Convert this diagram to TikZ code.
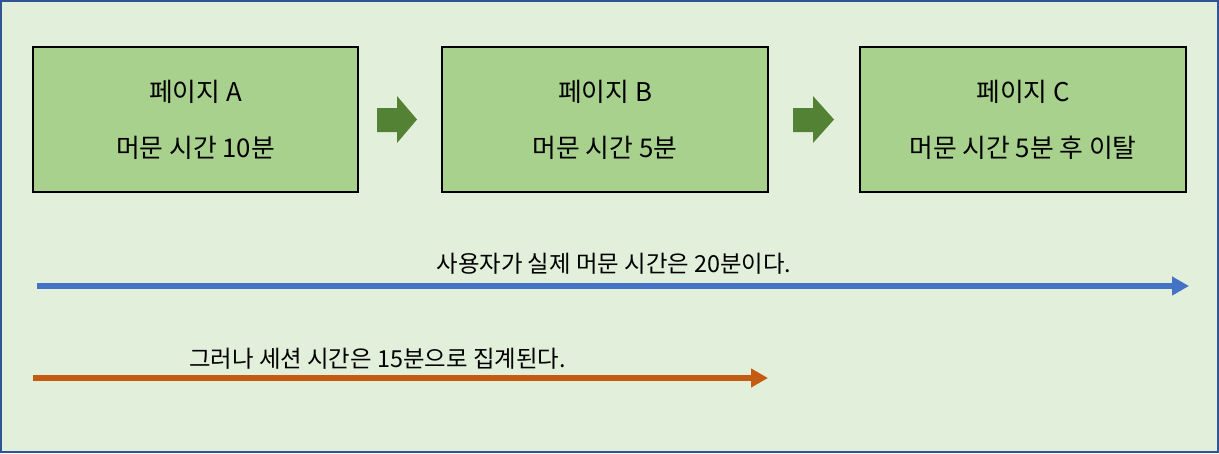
\documentclass[tikz,border=0pt]{standalone}
\usepackage{fontspec}
\setmainfont{Noto Sans CJK KR}
\usetikzlibrary{arrows.meta}
\definecolor{bgc}{HTML}{E2EFDA}
\definecolor{boxc}{HTML}{A9D18E}
\definecolor{blockc}{HTML}{548235}
\definecolor{bluec}{HTML}{4472C4}
\definecolor{orangec}{HTML}{C55A11}
\definecolor{framec}{HTML}{2F5597}
\tikzset{
  pagebox/.style={draw=black, line width=1.3pt, fill=boxc},
  boxtext/.style={font=\fontsize{25.8}{30}\selectfont, inner sep=0pt, anchor=center},
  labeltext/.style={font=\fontsize{23.4}{28}\selectfont, inner sep=0pt, anchor=center},
  blockarrow/.style={fill=blockc, draw=none},
  flowarrow/.style={line width=6pt, -{Triangle[length=17pt,width=18pt]}},
}
\begin{document}
\begin{tikzpicture}[x=1pt,y=-1pt]
\useasboundingbox (0,0) rectangle (1219,453);
\fill[bgc] (0,0) rectangle (1219,453);
\draw[framec, line width=2pt] (1,1) rectangle (1218,452);
% boxes
\draw[pagebox] (33,47) rectangle (358,192);
\draw[pagebox] (442,47) rectangle (768,192);
\draw[pagebox] (860,47) rectangle (1186,192);
\node[boxtext] (a1) at (195.5,92) {페이지 A};
\node[boxtext] (a2) at (195.5,148) {머문 시간 10분};
\node[boxtext] (b1) at (605,92) {페이지 B};
\node[boxtext] (b2) at (605,148) {머문 시간 5분};
\node[boxtext] (c1) at (1023,92) {페이지 C};
\node[boxtext] (c2) at (1023,148) {머문 시간 5분 후 이탈};
% block arrows
\fill[blockarrow] (377,108) -- (397,108) -- (397,96) -- (417,119.5) -- (397,143) -- (397,132) -- (377,132) -- cycle;
\fill[blockarrow] (793,108) -- (813,108) -- (813,96) -- (834,119.5) -- (813,143) -- (813,132) -- (793,132) -- cycle;
% flow arrows
\coordinate (bs) at (37,286);
\coordinate (be) at (1189,286);
\draw[flowarrow, bluec] (bs) -- (be);
\node[labeltext] (bl) at (614,264) {사용자가 실제 머문 시간은 20분이다.};
\coordinate (os) at (33,378);
\coordinate (oe) at (768,378);
\draw[flowarrow, orangec] (os) -- (oe);
\node[labeltext] (ol) at (377.5,359) {그러나 세션 시간은 15분으로 집계된다.};
\end{tikzpicture}
\end{document}
